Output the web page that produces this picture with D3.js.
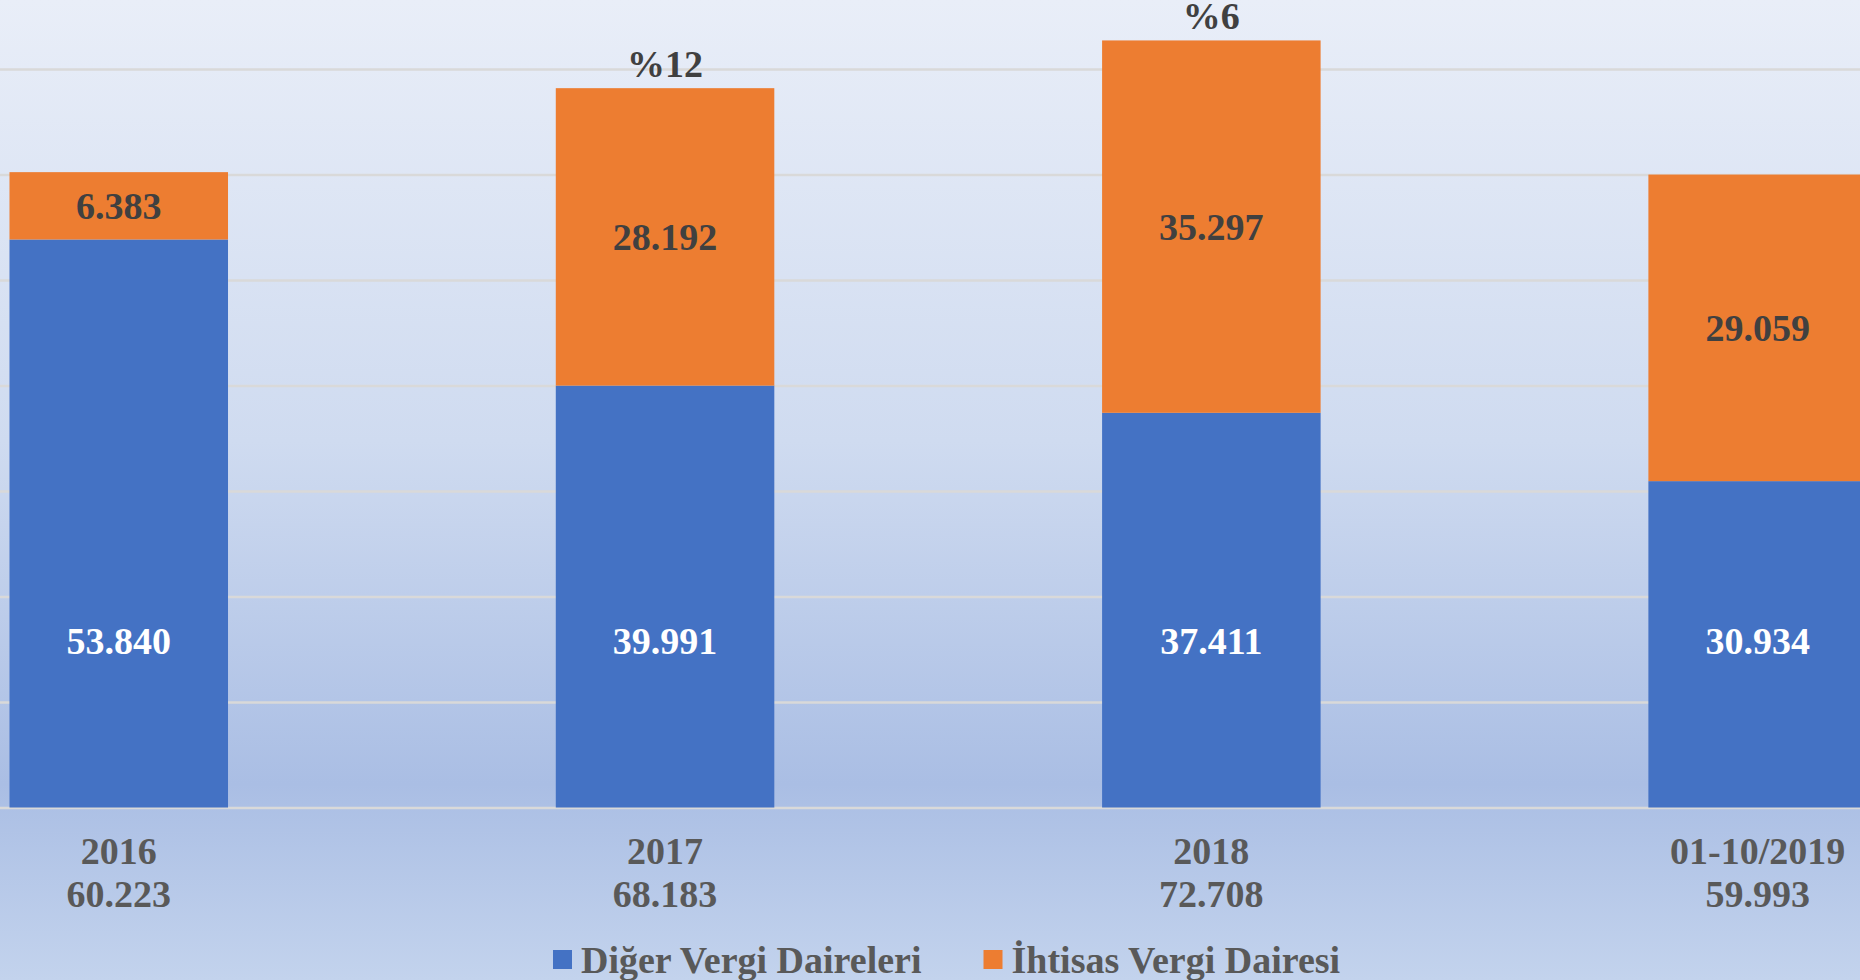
<!DOCTYPE html>
<html>
<head>
<meta charset="utf-8">
<script src="https://cdn.jsdelivr.net/npm/d3@7"></script>
<style>
  html, body { margin: 0; padding: 0; overflow: hidden; }
  svg { display: block; font-family: "Liberation Serif", "Times New Roman", serif; font-weight: bold; }
</style>
</head>
<body>
<svg id="chart" width="1860" height="980"></svg>
<script>
// data
const years   = ["2016", "2017", "2018", "01-10/2019"]
const diger   = [53840, 39991, 37411, 30934]   // Diğer Vergi Daireleri
const ihtisas = [6383, 28192, 35297, 29059]    // İhtisas Vergi Dairesi
const totals  = [60223, 68183, 72708, 59993]
const growth  = [null, "%12", "%6", null]
const seriesNames = ["Diğer Vergi Daireleri", "İhtisas Vergi Dairesi"]
const yTicks  = [10000, 20000, 30000, 40000, 50000, 60000, 70000]

const W = 1860, H = 980
const BLUE = "#4472c4", ORANGE = "#ed7d31"
const FS = 38
const fmt = d3.formatLocale({decimal: ",", thousands: ".", grouping: [3], currency: ["", ""]}).format(",d")

const svg = d3.select("#chart")

// background gradient
const grad = svg.append("defs").append("linearGradient")
    .attr("id", "bg").attr("x1", 0).attr("y1", 0).attr("x2", 0).attr("y2", 1)
grad.append("stop").attr("offset", "0%").attr("stop-color", "#e9eef8")
grad.append("stop").attr("offset", "45%").attr("stop-color", "#cfdbf0")
grad.append("stop").attr("offset", "80%").attr("stop-color", "#aabee4")
grad.append("stop").attr("offset", "100%").attr("stop-color", "#c3d3ed")
svg.append("rect").attr("width", W).attr("height", H).attr("fill", "url(#bg)")

// scales
const x = d3.scaleBand()
    .domain(years)
    .range([-154.4, 2030.8])
    .paddingInner(0.6)
    .paddingOuter(0.3)

const y = d3.scaleLinear()
    .domain([0, 70000])
    .range([807.5, 69])

// gridlines
svg.append("g")
    .call(d3.axisLeft(y).tickValues([0].concat(yTicks)).tickSize(-W).tickFormat(""))
    .call(g => g.select(".domain").remove())
    .call(g => g.selectAll("line").attr("stroke", "#d9d9d9").attr("stroke-width", 2.5))

// stacked bars
const rows = years.map((yr, i) => ({year: yr, diger: diger[i], ihtisas: ihtisas[i]}))
const stack = d3.stack().keys(["diger", "ihtisas"])(rows)
const colors = {diger: BLUE, ihtisas: ORANGE}

const layers = svg.append("g").selectAll("g")
    .data(stack)
    .enter()
    .append("g")
    .attr("fill", d => colors[d.key])

layers.selectAll("rect")
    .data(d => d)
    .enter()
    .append("rect")
    .attr("x", d => x(d.data.year))
    .attr("y", d => y(d[1]))
    .attr("width", x.bandwidth())
    .attr("height", d => y(d[0]) - y(d[1]))

// value labels - blue ones sit low in the bar, orange ones centred
svg.append("g").selectAll("text")
    .data(rows)
    .enter()
    .append("text")
    .attr("x", d => x(d.year) + x.bandwidth() / 2)
    .attr("y", y(15800) + 13)
    .attr("text-anchor", "middle")
    .attr("font-size", FS)
    .attr("fill", "#ffffff")
    .text(d => fmt(d.diger))

svg.append("g").selectAll("text")
    .data(rows)
    .enter()
    .append("text")
    .attr("x", d => x(d.year) + x.bandwidth() / 2)
    .attr("y", d => (y(d.diger) + y(d.diger + d.ihtisas)) / 2 + 13)
    .attr("text-anchor", "middle")
    .attr("font-size", FS)
    .attr("fill", "#404040")
    .text(d => fmt(d.ihtisas))

// growth labels above bars
svg.append("g").selectAll("text")
    .data(years.map((yr, i) => ({year: yr, total: totals[i], g: growth[i]})).filter(d => d.g))
    .enter()
    .append("text")
    .attr("x", d => x(d.year) + x.bandwidth() / 2)
    .attr("y", d => y(d.total) - 11)
    .attr("text-anchor", "middle")
    .attr("font-size", FS)
    .attr("fill", "#404040")
    .text(d => d.g)

// category axis, with the total on a second line
const xAxis = svg.append("g")
    .attr("transform", "translate(0,807.5)")
    .call(d3.axisBottom(x).tickSize(0).tickFormat(""))
xAxis.select(".domain").remove()

const catLabels = svg.append("g").selectAll("text")
    .data(years.map((yr, i) => ({year: yr, total: totals[i]})))
    .enter()
    .append("text")
    .attr("text-anchor", "middle")
    .attr("font-size", FS)
    .attr("fill", "#595959")
catLabels.append("tspan")
    .attr("x", d => x(d.year) + x.bandwidth() / 2)
    .attr("y", 864)
    .text(d => d.year)
catLabels.append("tspan")
    .attr("x", d => x(d.year) + x.bandwidth() / 2)
    .attr("y", 907)
    .text(d => fmt(d.total))

// legend
const legend = svg.append("g").attr("transform", "translate(553,0)")
let lx = 0
seriesNames.forEach((name, i) => {
    const item = legend.append("g").attr("transform", "translate(" + lx + ",0)")
    item.append("rect")
        .attr("x", 0).attr("y", 950)
        .attr("width", 19).attr("height", 19)
        .attr("fill", i === 0 ? BLUE : ORANGE)
    const t = item.append("text")
        .attr("x", 28).attr("y", 973)
        .attr("font-size", FS)
        .attr("fill", "#595959")
        .text(name)
    lx += 28 + t.node().getComputedTextLength() + 62
})
</script>
</body>
</html>
